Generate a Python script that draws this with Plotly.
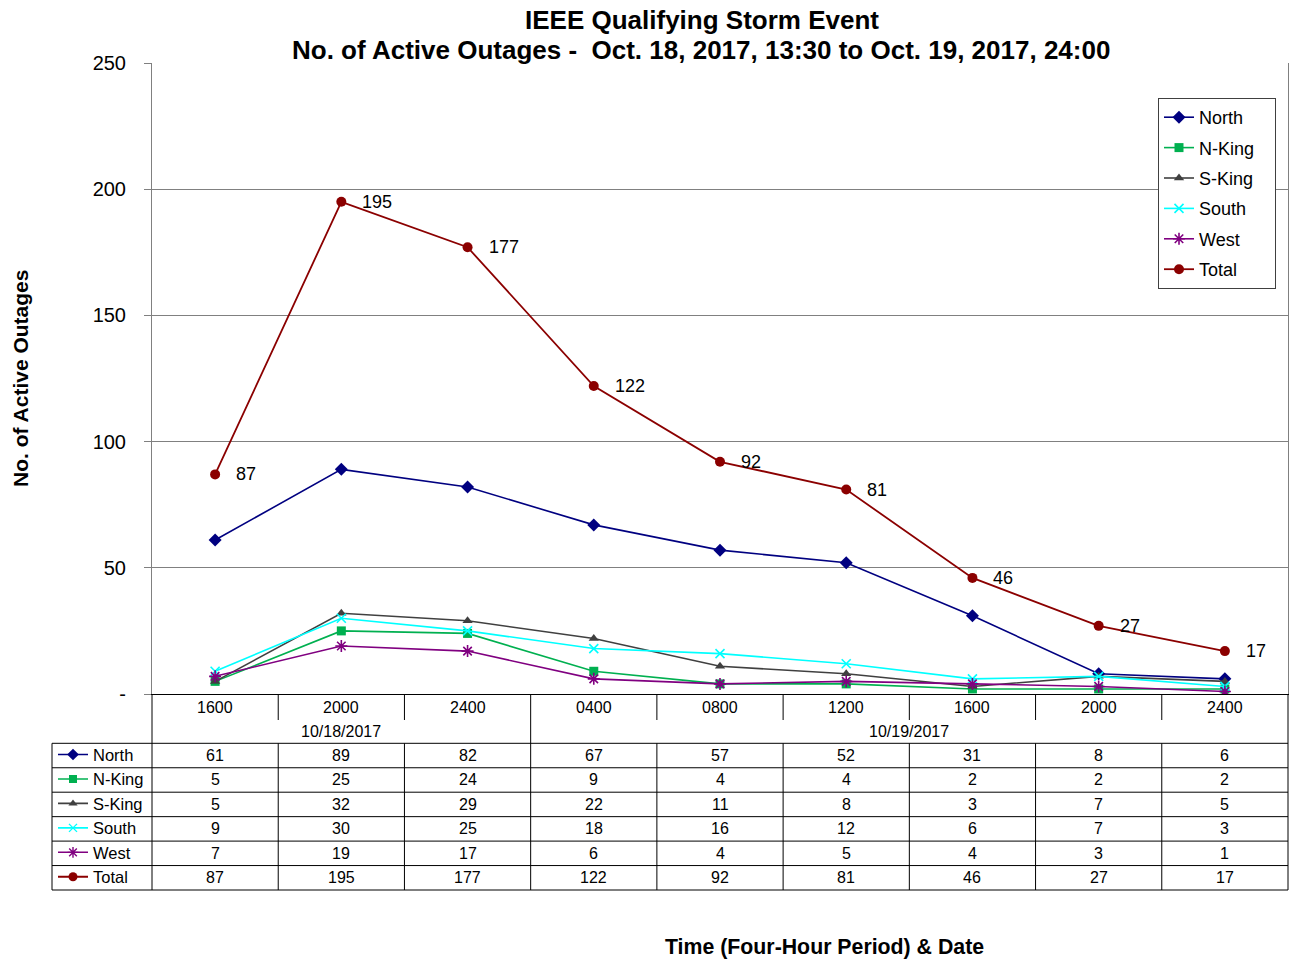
import plotly.graph_objects as go

# ---------------- data ----------------
times = ["1600", "2000", "2400", "0400", "0800", "1200", "1600", "2000", "2400"]
dates = ["10/18/2017", "10/19/2017"]
date_counts = [3, 6]
series_names = ["North", "N-King", "S-King", "South", "West", "Total"]
north = [61, 89, 82, 67, 57, 52, 31, 8, 6]
n_king = [5, 25, 24, 9, 4, 4, 2, 2, 2]
s_king = [5, 32, 29, 22, 11, 8, 3, 7, 5]
south = [9, 30, 25, 18, 16, 12, 6, 7, 3]
west = [7, 19, 17, 6, 4, 5, 4, 3, 1]
total = [87, 195, 177, 122, 92, 81, 46, 27, 17]
y_tickvals = [0, 50, 100, 150, 200, 250]
y_ticktext = ["-", "50", "100", "150", "200", "250"]

series_values = [north, n_king, s_king, south, west, total]

# ---------------- styles ----------------
FONT = "Liberation Sans, Arial, sans-serif"
styles = {
    "North": dict(color="#000080", symbol="diamond", size=10, lw=1.6),
    "N-King": dict(color="#00B050", symbol="square", size=9, lw=1.6),
    "S-King": dict(color="#404040", symbol="triangle-up", size=9, lw=1.6),
    "South": dict(color="#00FFFF", symbol="x-thin", size=9, lw=1.6),
    "West": dict(color="#800080", symbol="asterisk", size=10, lw=1.6),
    "Total": dict(color="#8B0000", symbol="circle", size=10, lw=1.8),
}

W, H = 1290, 960
L, R, T, B = 152, 1288, 63, 694
PW, PH = R - L, B - T


def px(x):
    return (x - L) / PW


def py(y):
    return (B - y) / PH


def txt(xv, yv, text, size, xref="paper", yref="paper", **kw):
    d = dict(x=xv, y=yv, xref=xref, yref=yref, text=text, showarrow=False,
             xanchor="center", yanchor="middle", font=dict(size=size, color="#000", family=FONT))
    d.update(kw)
    return d


x = list(range(len(times)))
PADNAME = "\u00a0\u00a0\u00a0"

fig = go.Figure()
for name, vals in zip(series_names, series_values):
    st = styles[name]
    open_sym = st["symbol"] in ("x-thin", "asterisk")
    marker = dict(symbol=st["symbol"], size=st["size"], color=st["color"],
                  line=dict(color=st["color"], width=1.6 if open_sym else 0))
    fig.add_trace(go.Scatter(x=x, y=vals, mode="lines+markers", name=name + PADNAME,
                             line=dict(color=st["color"], width=st["lw"]),
                             marker=marker, legend="legend", legendgroup=name,
                             hovertemplate=name + ": %{y}<extra></extra>"))
for name in series_names:
    st = styles[name]
    open_sym = st["symbol"] in ("x-thin", "asterisk")
    marker = dict(symbol=st["symbol"], size=st["size"] - 1, color=st["color"],
                  line=dict(color=st["color"], width=1.4 if open_sym else 0))
    fig.add_trace(go.Scatter(x=[None], y=[None], mode="lines+markers", name=name,
                             line=dict(color=st["color"], width=st["lw"]),
                             marker=marker, legend="legend2", showlegend=True,
                             hoverinfo="skip"))

annotations = []
# data labels on Total
for i, v in enumerate(total):
    annotations.append(txt(i, v, str(v), 18, xref="x", yref="y", xanchor="left", xshift=19))

# title
annotations.append(txt(px(702), py(20), "<b>IEEE Qualifying Storm Event</b>", 26))
annotations.append(txt(px(701), py(50), "<b>No. of Active Outages -  Oct. 18, 2017, 13:30 to Oct. 19, 2017, 24:00</b>", 26))
# axis titles
annotations.append(txt(px(20), py(379), "<b>No. of Active Outages</b>", 21, textangle=-90))
annotations.append(txt(px(824), py(947), "<b>Time (Four-Hour Period) & Date</b>", 21.3))

# table header
for i, t in enumerate(times):
    annotations.append(txt(i, py(707), t, 16, xref="x"))
start = 0
for d, c in zip(dates, date_counts):
    annotations.append(txt(start + (c - 1) / 2, py(731), d, 16, xref="x"))
    start += c

# table values
row_top = 743.3
row_h = 24.45
for r, vals in enumerate(series_values):
    yc = row_top + row_h * (r + 0.5)
    for i, v in enumerate(vals):
        annotations.append(txt(i, py(yc), str(v), 16, xref="x"))

shapes = []
LC = "#000000"
# horizontal table lines
for k in range(len(series_values) + 1):
    yy = row_top + row_h * k
    shapes.append(dict(type="line", xref="paper", yref="paper", x0=px(52), x1=1.0, y0=py(yy), y1=py(yy),
                       line=dict(color=LC, width=1)))
y_bottom = row_top + row_h * len(series_values)
# left/right borders
shapes.append(dict(type="line", xref="paper", yref="paper", x0=px(52), x1=px(52), y0=py(row_top), y1=py(y_bottom),
                   line=dict(color=LC, width=1)))
shapes.append(dict(type="line", xref="paper", yref="paper", x0=0, x1=0, y0=0, y1=py(y_bottom),
                   line=dict(color=LC, width=1)))
shapes.append(dict(type="line", xref="paper", yref="paper", x0=1, x1=1, y0=0, y1=py(y_bottom),
                   line=dict(color=LC, width=1)))
# vertical boundaries between categories
group_edges = set()
acc = 0
for c in date_counts[:-1]:
    acc += c
    group_edges.add(acc - 0.5)
for i in range(len(times) - 1):
    b = i + 0.5
    if b in group_edges:
        shapes.append(dict(type="line", xref="x", yref="paper", x0=b, x1=b, y0=0, y1=py(y_bottom),
                           line=dict(color=LC, width=1)))
    else:
        shapes.append(dict(type="line", xref="x", yref="paper", x0=b, x1=b, y0=0, y1=py(720),
                           line=dict(color=LC, width=1)))
        shapes.append(dict(type="line", xref="x", yref="paper", x0=b, x1=b, y0=py(row_top), y1=py(y_bottom),
                           line=dict(color=LC, width=1)))

fig.update_layout(
    width=W, height=H, autosize=False,
    margin=dict(l=L, r=W - R, t=T, b=H - B, pad=0, autoexpand=False),
    paper_bgcolor="white", plot_bgcolor="white",
    font=dict(family=FONT, color="#000"),
    showlegend=True,
    xaxis=dict(range=[-0.5, len(times) - 0.5], showticklabels=False, ticks="", showgrid=False,
               zeroline=False, showline=True, linecolor="#000", linewidth=1, fixedrange=True),
    yaxis=dict(range=[0, 250], tickvals=y_tickvals, ticktext=y_ticktext, ticks="outside", ticklen=7,
               ticklabelstandoff=14,
               tickcolor="#808080", showgrid=True, gridcolor="#808080", gridwidth=1, zeroline=False,
               showline=True, linecolor="#808080", linewidth=1, mirror=True,
               tickfont=dict(size=20, color="#000", family=FONT), fixedrange=True),
    legend=dict(x=px(1158), y=py(98), xanchor="left", yanchor="top", bgcolor="white",
                bordercolor="#404040", borderwidth=1, font=dict(size=18, color="#000", family=FONT),
                traceorder="grouped", tracegroupgap=4, itemclick=False, itemdoubleclick=False),
    legend2=dict(x=px(53), y=py(row_top - 6), xanchor="left", yanchor="top", bgcolor="rgba(0,0,0,0)",
                 borderwidth=0, font=dict(size=16.5, color="#000", family=FONT),
                 traceorder="normal", itemclick=False, itemdoubleclick=False),
    annotations=annotations,
    shapes=shapes,
)

fig.write_html("out.html", config={"displayModeBar": False},
               post_script="document.body.style.margin='0px';document.body.style.overflow='hidden';")
